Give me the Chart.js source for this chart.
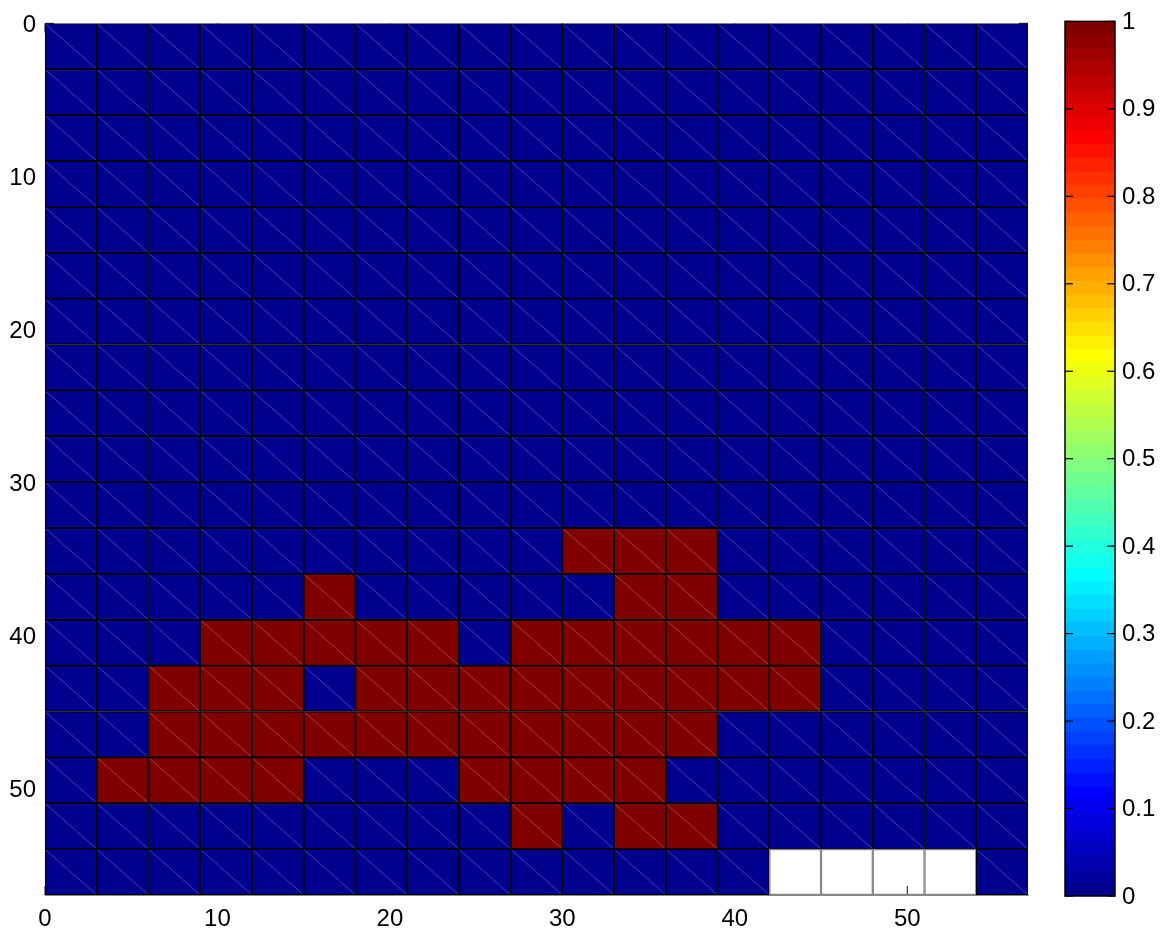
<!DOCTYPE html>
<html>
<head>
<meta charset="utf-8">
<script src="https://cdn.jsdelivr.net/npm/chart.js@4.4.1/dist/chart.umd.min.js"></script>
<style>
  html, body { margin: 0; padding: 0; background: #fff; }
  #wrap { position: relative; width: 1171px; height: 935px; }
  #gridChart { position: absolute; left: 0; top: 0; }
  #cbarChart { position: absolute; left: 1040px; top: 0; }
</style>
</head>
<body>
<div id="wrap">
  <canvas id="gridChart" width="1040" height="935"></canvas>
  <canvas id="cbarChart" width="131" height="935"></canvas>
</div>
<script>
// cell size in axis units, tick values
var cellSize = 3;
var xTicks = [0, 10, 20, 30, 40, 50];
var yTicks = [0, 10, 20, 30, 40, 50];
var cbarTicks = [0, 0.1, 0.2, 0.3, 0.4, 0.5, 0.6, 0.7, 0.8, 0.9, 1];
var axisMax = 57;
var colormapSize = 64;

// one row per 3-unit band, top to bottom; null = no data
var cellValues = [
    [0,0,0,0,0,0,0,0,0,0,0,0,0,0,0,0,0,0,0],
    [0,0,0,0,0,0,0,0,0,0,0,0,0,0,0,0,0,0,0],
    [0,0,0,0,0,0,0,0,0,0,0,0,0,0,0,0,0,0,0],
    [0,0,0,0,0,0,0,0,0,0,0,0,0,0,0,0,0,0,0],
    [0,0,0,0,0,0,0,0,0,0,0,0,0,0,0,0,0,0,0],
    [0,0,0,0,0,0,0,0,0,0,0,0,0,0,0,0,0,0,0],
    [0,0,0,0,0,0,0,0,0,0,0,0,0,0,0,0,0,0,0],
    [0,0,0,0,0,0,0,0,0,0,0,0,0,0,0,0,0,0,0],
    [0,0,0,0,0,0,0,0,0,0,0,0,0,0,0,0,0,0,0],
    [0,0,0,0,0,0,0,0,0,0,0,0,0,0,0,0,0,0,0],
    [0,0,0,0,0,0,0,0,0,0,0,0,0,0,0,0,0,0,0],
    [0,0,0,0,0,0,0,0,0,0,1,1,1,0,0,0,0,0,0],
    [0,0,0,0,0,1,0,0,0,0,0,1,1,0,0,0,0,0,0],
    [0,0,0,1,1,1,1,1,0,1,1,1,1,1,1,0,0,0,0],
    [0,0,1,1,1,0,1,1,1,1,1,1,1,1,1,0,0,0,0],
    [0,0,1,1,1,1,1,1,1,1,1,1,1,0,0,0,0,0,0],
    [0,1,1,1,1,0,0,0,1,1,1,1,0,0,0,0,0,0,0],
    [0,0,0,0,0,0,0,0,0,1,0,1,1,0,0,0,0,0,0],
    [0,0,0,0,0,0,0,0,0,0,0,0,0,0,null,null,null,null,0]
];

var tickFont = { family: '"Liberation Sans", Arial, Helvetica, sans-serif', size: 24 };

// matlab-style jet, index 1..m
function jetRGB(i, m) {
    var n = Math.ceil(m / 4);
    function u(k) {
        if (k < 1 || k > 3 * n - 1) return 0;
        if (k <= n) return k / n;
        if (k <= 2 * n - 1) return 1;
        return (3 * n - k) / n;
    }
    var off = Math.ceil(n / 2) - (m % 4 === 1 ? 1 : 0);
    var r = u(i - off - n), g = u(i - off), b = u(i - off + n);
    return 'rgb(' + Math.round(r * 255) + ',' + Math.round(g * 255) + ',' + Math.round(b * 255) + ')';
}

function valueColor(v) {
    var idx = Math.min(colormapSize - 1, Math.floor(v * colormapSize));
    return jetRGB(idx + 1, colormapSize);
}

var cells = [];
cellValues.forEach(function(row, r) {
    row.forEach(function(v, c) {
        cells.push({ x: [c * cellSize, (c + 1) * cellSize], y: r * cellSize + cellSize / 2, v: v });
    });
});

function fixedTicks(list) {
    return function(scale) {
        scale.ticks = list.map(function(v) { return { value: v }; });
    };
}

function strokeLine(ctx, x1, y1, x2, y2) {
    ctx.beginPath();
    ctx.moveTo(x1, y1);
    ctx.lineTo(x2, y2);
    ctx.stroke();
}

// ticks pointing into the plot box, on all four sides
function drawInwardTicks(chart, len, color, width) {
    var ctx = chart.ctx, a = chart.chartArea;
    ctx.save();
    ctx.strokeStyle = color;
    ctx.lineWidth = width;
    if (chart.scales.x.options.display !== false) {
        chart.scales.x.ticks.forEach(function(t) {
            var px = chart.scales.x.getPixelForValue(t.value);
            strokeLine(ctx, px, a.bottom, px, a.bottom - len);
            strokeLine(ctx, px, a.top, px, a.top + len);
        });
    }
    chart.scales.y.ticks.forEach(function(t) {
        var py = chart.scales.y.getPixelForValue(t.value);
        strokeLine(ctx, a.left, py, a.left + len, py);
        strokeLine(ctx, a.right, py, a.right - len, py);
    });
    ctx.restore();
}

var gridTicks = {
    id: 'gridTicks',
    beforeDatasetsDraw: function(chart) {
        drawInwardTicks(chart, 9, '#333', 1.2);
    }
};

// mesh diagonal across each filled cell
var cellDiagonals = {
    id: 'cellDiagonals',
    afterDatasetsDraw: function(chart) {
        var ctx = chart.ctx;
        var meta = chart.getDatasetMeta(0);
        ctx.save();
        ctx.strokeStyle = 'rgba(255,255,255,0.25)';
        ctx.lineWidth = 1;
        meta.data.forEach(function(bar, i) {
            if (cells[i].v === null) return;
            var p = bar.getProps(['x', 'y', 'base', 'height'], true);
            var left = Math.min(p.x, p.base), right = Math.max(p.x, p.base);
            strokeLine(ctx, left + 1, p.y - p.height / 2 + 1, right - 1, p.y + p.height / 2 - 1);
        });
        ctx.restore();
    }
};

new Chart(document.getElementById('gridChart'), {
    type: 'bar',
    data: {
        datasets: [{
            data: cells,
            backgroundColor: function(c) {
                if (!c.raw) return '#000';
                return c.raw.v === null ? 'rgba(0,0,0,0)' : valueColor(c.raw.v);
            },
            borderColor: function(c) {
                return c.raw && c.raw.v === null ? '#888' : '#000';
            },
            borderWidth: function(c) {
                return c.raw && c.raw.v === null ? 0.8 : 1.25;
            },
            borderSkipped: false,
            barPercentage: 1,
            categoryPercentage: 1
        }]
    },
    options: {
        indexAxis: 'y',
        responsive: false,
        animation: false,
        devicePixelRatio: 1,
        layout: { padding: { top: 18, right: 12, bottom: 0, left: 0 } },
        scales: {
            x: {
                type: 'linear', position: 'bottom', min: 0, max: axisMax, offset: false,
                afterBuildTicks: fixedTicks(xTicks),
                afterFit: function(s) { s.height = 40; },
                grid: { display: false, drawTicks: false, offset: false },
                border: { display: true, color: '#888', width: 1 },
                ticks: { padding: 10, font: tickFont, color: '#000', maxRotation: 0, autoSkip: false,
                         callback: function(v) { return String(v); } }
            },
            y: {
                type: 'linear', position: 'left', reverse: true, min: 0, max: axisMax, offset: false,
                afterBuildTicks: fixedTicks(yTicks),
                afterFit: function(s) { s.width = 45; },
                grid: { display: false, drawTicks: false, offset: false },
                border: { display: true, color: '#888', width: 1 },
                ticks: { padding: 9, labelOffset: 2, font: tickFont, color: '#000', autoSkip: false,
                         callback: function(v) { return String(v); } }
            }
        },
        plugins: { legend: { display: false }, tooltip: { enabled: false } }
    },
    plugins: [gridTicks, cellDiagonals]
});

// colorbar: 64 stacked bands of the jet map
var bandColors = [];
for (var k = 1; k <= colormapSize; k++) bandColors.push(jetRGB(k, colormapSize));

var cbarFrame = {
    id: 'cbarFrame',
    afterDatasetsDraw: function(chart) {
        drawInwardTicks(chart, 8, '#000', 1.2);
        var a = chart.chartArea, ctx = chart.ctx;
        ctx.save();
        ctx.strokeStyle = '#000';
        ctx.lineWidth = 1.5;
        ctx.strokeRect(a.left, a.top, a.right - a.left, a.bottom - a.top);
        ctx.restore();
    }
};

new Chart(document.getElementById('cbarChart'), {
    type: 'bar',
    data: {
        labels: [''],
        datasets: bandColors.map(function(col) {
            return { data: [1 / colormapSize], backgroundColor: col, borderWidth: 0,
                     barPercentage: 1, categoryPercentage: 1 };
        })
    },
    options: {
        responsive: false,
        animation: false,
        devicePixelRatio: 1,
        layout: { padding: { top: 18, right: 0, bottom: 39, left: 25 } },
        scales: {
            x: { display: false, stacked: true },
            y: {
                stacked: true, position: 'right', min: 0, max: 1,
                afterBuildTicks: fixedTicks(cbarTicks),
                afterFit: function(s) { s.width = 56; },
                grid: { display: false, drawTicks: false },
                border: { display: false },
                ticks: { padding: 7, labelOffset: 1, font: tickFont, color: '#000', autoSkip: false,
                         callback: function(v) { return String(v); } }
            }
        },
        plugins: { legend: { display: false }, tooltip: { enabled: false } }
    },
    plugins: [cbarFrame]
});
</script>
</body>
</html>
